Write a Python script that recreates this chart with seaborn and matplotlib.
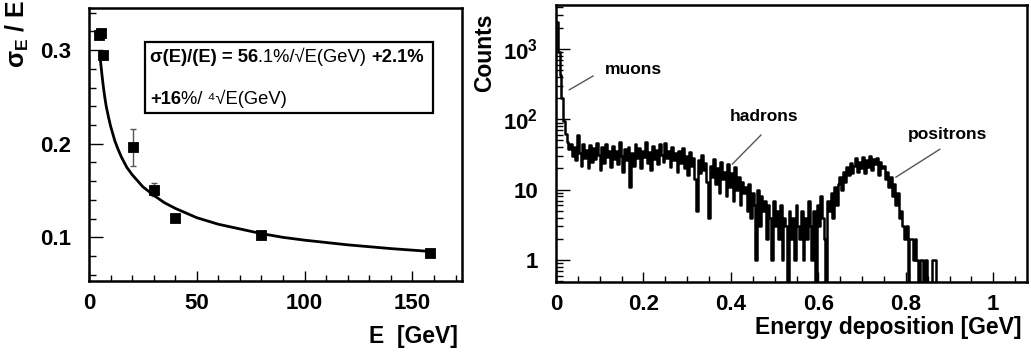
import numpy as np
import pandas as pd
import matplotlib
matplotlib.use("Agg")
import matplotlib.pyplot as plt
import seaborn as sns
from matplotlib.ticker import MultipleLocator, FixedLocator, FixedFormatter, LogLocator, NullFormatter
from matplotlib.patches import Rectangle

# ---------------- data ----------------
energy_gev = [4.5, 5.5, 6.5, 20.5, 30.0, 40.0, 80.0, 158.0]
resolution = [0.316, 0.318, 0.295, 0.196, 0.151, 0.121, 0.103, 0.083]
resolution_err = [0.002, 0.002, 0.002, 0.020, 0.007, 0.002, 0.002, 0.002]

fit_energy = [5.3, 5.6, 6.0, 6.5, 7.0, 7.5, 8.0, 9.0, 10.0, 11.0, 12.0, 13.5, 15.0,
              17.5, 20.0, 25.0, 30.0, 35.0, 40.0, 50.0, 60.0, 70.0, 80.0, 90.0,
              100.0, 120.0, 140.0, 158.0]
fit_resolution = [0.289, 0.283, 0.274, 0.264, 0.255, 0.247, 0.240, 0.229, 0.219, 0.211,
                  0.203, 0.194, 0.186, 0.175, 0.167, 0.154, 0.145, 0.137, 0.131, 0.121,
                  0.114, 0.109, 0.104, 0.100, 0.097, 0.092, 0.088, 0.085]

hist_bin_width = 0.004
hist_counts = [
    2400, 900, 420, 200, 95, 62, 48, 38, 44, 30,
    41, 26, 60, 33, 22, 45, 28, 37, 20, 43,
    25, 39, 27, 46, 31, 19, 40, 24, 44, 29,
    36, 21, 42, 27, 35, 23, 47, 30, 18, 38,
    26, 41, 11, 33, 22, 45, 28, 39, 20, 36,
    29, 48, 24, 34, 19, 42, 27, 37, 23, 44,
    31, 25, 46, 28, 36, 21, 40, 26, 33, 18,
    35, 24, 39, 20, 30, 16, 34, 22, 28, 14,
    5, 26, 17, 31, 19, 24, 13, 4, 22, 15,
    27, 12, 20, 9, 25, 14, 18, 8, 23, 11,
    17, 7, 21, 10, 15, 6, 13, 9, 11, 5,
    12, 4, 9, 6, 1, 10, 3, 8, 5, 7,
    2, 6, 4, 1, 7, 3, 5, 2, 6, 1,
    4, 3, 0, 5, 2, 4, 1, 6, 3, 2,
    5, 1, 4, 2, 7, 3, 1, 5, 0, 6,
    3, 8, 4, 2, 0, 7, 5, 9, 4, 11,
    6, 12, 15, 10, 18, 13, 21, 16, 24, 17,
    22, 28, 18, 25, 20, 29, 17, 26, 21, 30,
    19, 27, 23, 28, 16, 25, 20, 22, 14, 18,
    11, 15, 8, 12, 6, 9, 4, 5, 3, 2,
    3, 0, 2, 2, 1, 2, 1, 0, 1, 1,
    0, 1, 0, 0, 0, 1, 1, 0, 0, 0,
]

left_xticks = [0, 50, 100, 150]
left_yticks = [0.1, 0.2, 0.3]
right_xticks = [0, 0.2, 0.4, 0.6, 0.8, 1.0]
right_xticklabels = ["0", "0.2", "0.4", "0.6", "0.8", "1"]
right_yticks = [1, 10, 100, 1000]
right_yticklabels = ["1", "10", r"$10^{2}$", r"$10^{3}$"]

# annotation labels: (text, text x, text y, line x0, y0, x1, y1)
annotations = [
    ("muons", 0.112, 506, 0.030, 262, 0.085, 414),
    ("hadrons", 0.398, 109, 0.403, 23, 0.469, 60),
    ("positrons", 0.805, 60, 0.777, 15, 0.878, 37.6),
]

# ---------------- style ----------------
sns.set_theme(style="ticks")
plt.rcParams["font.family"] = ["Liberation Sans", "DejaVu Sans"]
plt.rcParams["font.weight"] = "bold"
plt.rcParams["mathtext.fontset"] = "custom"
plt.rcParams["mathtext.rm"] = "Liberation Sans:bold"
plt.rcParams["mathtext.it"] = "Liberation Sans:bold"
plt.rcParams["mathtext.bf"] = "Liberation Sans:bold"
plt.rcParams["mathtext.sf"] = "Liberation Sans:bold"
plt.rcParams["axes.edgecolor"] = "black"
plt.rcParams["text.color"] = "black"
plt.rcParams["axes.labelcolor"] = "black"
plt.rcParams["xtick.color"] = "black"
plt.rcParams["ytick.color"] = "black"

fig = plt.figure(figsize=(10.31, 3.53), dpi=100)
ax1 = fig.add_axes([0.0863, 0.204, 0.3618, 0.7734])
ax2 = fig.add_axes([0.5393, 0.202, 0.4568, 0.7847])

tick_fs = 16
label_fs = 16.5

# ---------------- left panel ----------------
fit_df = pd.DataFrame({"E": fit_energy, "res": fit_resolution})
pts_df = pd.DataFrame({"E": energy_gev, "res": resolution, "err": resolution_err})

ax1.errorbar(pts_df["E"], pts_df["res"], yerr=pts_df["err"], fmt="none",
             ecolor="#555555", elinewidth=1.0, capsize=2.5, capthick=1.0, zorder=2)
sns.lineplot(data=fit_df, x="E", y="res", ax=ax1, color="black", lw=2.0,
             sort=False, zorder=3)
sns.scatterplot(data=pts_df, x="E", y="res", ax=ax1, marker="s", s=55,
                color="black", edgecolor="black", zorder=4)

ax1.set_xlim(0, 173)
ax1.set_ylim(0.0534, 0.345)
ax1.xaxis.set_major_locator(FixedLocator(left_xticks))
ax1.xaxis.set_minor_locator(MultipleLocator(10))
ax1.yaxis.set_major_locator(FixedLocator(left_yticks))
ax1.yaxis.set_minor_locator(MultipleLocator(0.02))
ax1.set_xticklabels([str(v) for v in left_xticks])
ax1.set_yticklabels([f"{v:.1f}" for v in left_yticks])

ax1.set_xlabel("E  [GeV]", fontsize=label_fs, fontweight="bold", loc="right")
ax1.set_ylabel(r"$\sigma_{\rm E}$ / E", fontsize=label_fs + 1.5, fontweight="bold", loc="top")
ax1.xaxis.set_label_coords(0.988, -0.16)
ax1.yaxis.set_label_coords(-0.155, 1.03)

# formula box
ax1.add_patch(Rectangle((0.150, 0.615), 0.772, 0.26, transform=ax1.transAxes,
                        fill=False, edgecolor="black", lw=1.6, zorder=5))
box_fs = 13.2
t1 = ax1.text(0.163, 0.82, "σ(E)/(E) = 56", transform=ax1.transAxes, fontsize=box_fs,
              fontweight="bold", va="center", ha="left")
t2 = ax1.annotate(".1%/√E(GeV) ", xycoords=t1, xy=(1, 0), va="bottom", ha="left",
                  fontsize=box_fs, fontweight="normal")
ax1.annotate("+2.1%", xycoords=t2, xy=(1, 0), va="bottom", ha="left",
             fontsize=box_fs, fontweight="bold")
t4 = ax1.text(0.163, 0.665, "+16", transform=ax1.transAxes, fontsize=box_fs,
              fontweight="bold", va="center", ha="left")
ax1.annotate("%/ ⁴√E(GeV)", xycoords=t4, xy=(1, 0), va="bottom", ha="left",
             fontsize=box_fs, fontweight="normal",
             family=["Liberation Sans", "DejaVu Sans"])

# ---------------- right panel ----------------
n_bins = len(hist_counts)
centers = (np.arange(n_bins) + 0.5) * hist_bin_width
hist_df = pd.DataFrame({"Edep": centers, "counts": hist_counts})
sns.histplot(data=hist_df, x="Edep", weights="counts", binwidth=hist_bin_width,
             binrange=(0, n_bins * hist_bin_width), element="step",
             fill=False, color="black", lw=1.8, ax=ax2)
ax2.set_yscale("log")
ax2.set_xlim(0, 1.077)
ax2.set_ylim(0.49, 4270)
ax2.xaxis.set_major_locator(FixedLocator(right_xticks))
ax2.xaxis.set_major_formatter(FixedFormatter(right_xticklabels))
ax2.xaxis.set_minor_locator(MultipleLocator(0.05))
ax2.yaxis.set_major_locator(FixedLocator(right_yticks))
ax2.yaxis.set_major_formatter(FixedFormatter(right_yticklabels))
ax2.yaxis.set_minor_locator(LogLocator(base=10, subs=np.arange(2, 10)))
ax2.yaxis.set_minor_formatter(NullFormatter())

ax2.set_xlabel("Energy deposition [GeV]", fontsize=label_fs, fontweight="bold", loc="right")
ax2.set_ylabel("Counts", fontsize=label_fs, fontweight="bold", loc="top")
ax2.xaxis.set_label_coords(0.989, -0.125)
ax2.yaxis.set_label_coords(-0.128, 0.97)

for text, tx, ty, x0, y0, x1, y1 in annotations:
    ax2.plot([x0, x1], [y0, y1], color="#555555", lw=1.0)
    ax2.text(tx, ty, text, fontsize=12.5, fontweight="bold", va="center", ha="left")

# ---------------- common axis styling ----------------
for ax in (ax1, ax2):
    for sp in ax.spines.values():
        sp.set_visible(True)
        sp.set_linewidth(1.8)
        sp.set_color("black")
    ax.tick_params(axis="both", which="both", direction="in", top=False, right=False,
                   bottom=True, left=True,
                   color="black", width=1.0, labelsize=tick_fs, labelcolor="black")
    ax.tick_params(axis="x", which="major", length=7, pad=9)
    ax.tick_params(axis="x", which="minor", length=4)
    ax.tick_params(axis="y", which="major", length=10, pad=13)
    ax.tick_params(axis="y", which="minor", length=5)
    for lab in ax.get_xticklabels() + ax.get_yticklabels():
        lab.set_fontweight("bold")
    ax.grid(False)

fig.savefig("out.png", dpi=100)
